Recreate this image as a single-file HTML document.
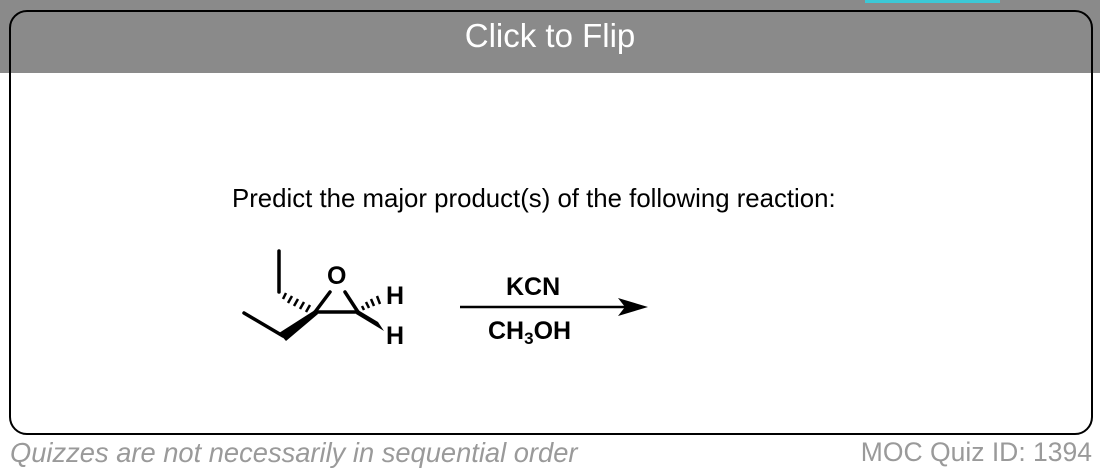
<!DOCTYPE html>
<html><head><style>
body{margin:0;width:1100px;height:474px;background:#fff;position:relative;overflow:hidden;font-family:"Liberation Sans",sans-serif}
.card{position:absolute;left:9px;top:10px;width:1080px;height:421px;border:2px solid #000;border-radius:18px;background:#fff}
.ov{position:absolute;left:0;top:0;width:1100px;height:73px;background:rgba(0,0,0,0.46)}
.title{position:absolute;left:0;width:1100px;top:17px;text-align:center;color:#fff;font-size:33px}
.tab{position:absolute;left:865px;top:0;width:135px;height:3px;background:#3cc8d6}
.foot{position:absolute;top:437px;font-size:26.5px;color:#9a9a9a}
</style></head><body>
<div class="card"></div>
<svg style="position:absolute;left:0;top:0" width="1100" height="474">
<text x="232" y="207" font-family="Liberation Sans" font-size="25.8">Predict the major product(s) of the following reaction:</text>
<g stroke="#000" stroke-width="3.5" fill="none" stroke-linecap="round">
<line x1="279" y1="251" x2="279" y2="292"/>
<line x1="244" y1="313" x2="283" y2="336"/>
<line x1="315" y1="312" x2="358" y2="312"/>
<line x1="315" y1="312" x2="330" y2="292"/>
<line x1="358" y1="312" x2="345" y2="292"/>
</g>
<polygon points="315,310 279,333 286,341 318,314" fill="#000"/>
<polygon points="358,310 378,322 384,331 356,314" fill="#000"/>
<g stroke="#000" stroke-width="2.5">
<line x1="286" y1="293" x2="283" y2="299"/><line x1="292" y1="296" x2="288" y2="303"/><line x1="298" y1="299" x2="294" y2="306"/><line x1="304" y1="302" x2="300" y2="309"/><line x1="310" y1="305" x2="306" y2="312"/>
<line x1="364" y1="310" x2="362" y2="306"/><line x1="369" y1="308" x2="366" y2="302"/><line x1="374" y1="306" x2="371" y2="299"/><line x1="380" y1="304" x2="377" y2="296"/>
</g>
<g font-family="Liberation Sans" font-weight="bold" font-size="25" fill="#000">
<text x="327" y="284">O</text>
<text x="386" y="304">H</text>
<text x="386" y="344">H</text>
<text x="506" y="295">KCN</text>
<text x="488" y="339">CH<tspan font-size="17" dy="5">3</tspan><tspan dy="-5">OH</tspan></text>
</g>
<line x1="460" y1="307" x2="625" y2="307" stroke="#000" stroke-width="2.5"/>
<polygon points="648,307 618,298 625,307 618,316" fill="#000"/>
</svg>
<div class="ov"></div>
<div class="tab"></div>
<div class="title">Click to Flip</div>
<div class="foot" style="left:10px;font-style:italic;font-size:27.3px">Quizzes are not necessarily in sequential order</div>
<div class="foot" style="right:8px">MOC Quiz ID: 1394</div>
</body></html>
